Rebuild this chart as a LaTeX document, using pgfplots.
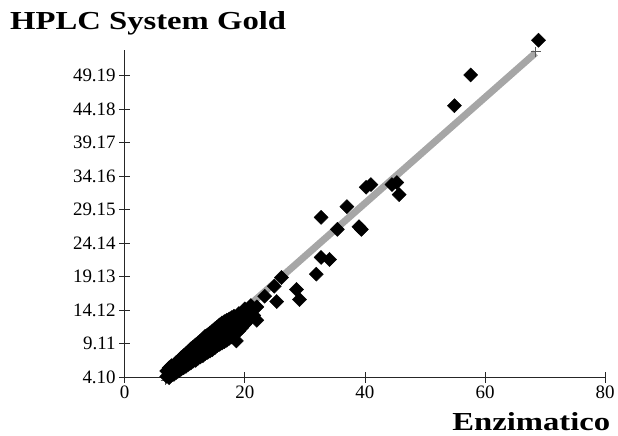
\documentclass[border=0pt]{standalone}
\usepackage{fontspec}
\setmainfont{Liberation Serif}
\usepackage{graphicx}
\usepackage{pgfplots}
\pgfplotsset{compat=1.18}
\begin{document}
\begin{tikzpicture}
\path (-125pt,-59pt) rectangle (493pt,378pt);
\begin{axis}[
  at={(0pt,0pt)}, anchor=south west,
  scale only axis, width=481.7pt, height=328.3pt,
  xmin=0, xmax=80, ymin=4.10, ymax=53.1,
  axis x line=bottom, axis y line=left,
  axis line style={-, line width=0.8pt, black!85},
  xtick={0,20,40,60,80},
  ytick={4.10,9.11,14.12,19.13,24.14,29.15,34.16,39.17,44.18,49.19},
  yticklabels={4.10,9.11,14.12,19.13,24.14,29.15,34.16,39.17,44.18,49.19},
  xticklabels={0,20,40,60,80},
  tick align=center, major tick length=11pt,
  tick style={line width=0.8pt, black!85},
  ticklabel style={font=\fontsize{19}{21}\selectfont},
  /pgf/number format/assume math mode=true,
  clip=false,
]
\addplot[gray!70, line width=7pt] coordinates {(6.8,3.8) (68.4,52.6)};
\addplot[only marks, mark=+, mark size=5pt, gray!70!black, mark options={line width=0.8pt}] coordinates {(6.8,3.6) (68.4,52.8)};
\addplot[only marks, mark=square*, mark size=5pt, black, mark options={rotate=45}] coordinates {
(7.0,4.2) (7.0,5.0) (7.4,4.6) (7.4,5.5) (7.4,4.0) (7.8,5.0) (7.8,5.8) (7.8,4.4)
(8.2,4.9) (8.2,5.9) (8.2,4.5) (8.6,5.4) (8.6,6.3) (8.6,4.8) (9.0,5.6) (9.0,6.6) (9.0,5.0)
(9.4,6.1) (9.4,7.0) (9.4,5.3) (9.8,6.3) (9.8,7.3) (9.8,5.5) (10.2,6.6) (10.2,7.6) (10.2,5.7)
(10.6,6.9) (10.6,7.9) (10.6,6.0) (11.0,7.2) (11.0,8.3) (11.0,6.2) (11.4,7.5) (11.4,8.6) (11.4,6.5)
(11.8,7.7) (11.8,8.9) (11.8,6.6) (12.2,8.0) (12.2,9.2) (12.2,6.9) (12.6,8.2) (12.6,9.5) (12.6,7.1)
(13.0,8.5) (13.0,9.8) (13.0,7.3) (13.4,8.9) (13.4,10.2) (13.4,7.6) (13.8,9.1) (13.8,10.4) (13.8,7.8)
(14.2,9.3) (14.2,10.7) (14.2,8.0) (14.6,9.6) (14.6,11.0) (14.6,8.2) (15.0,9.8) (15.0,11.3) (15.0,8.5)
(15.4,10.2) (15.4,11.6) (15.4,8.8) (15.8,10.4) (15.8,11.9) (15.8,9.0) (16.2,10.6) (16.2,12.2) (16.2,9.2)
(16.6,10.9) (16.6,12.4) (16.6,9.4) (17.0,11.1) (17.0,12.6) (17.0,9.6) (17.4,11.4) (17.4,12.8) (17.4,9.9)
(17.8,11.6) (17.8,13.0) (17.8,10.1) (18.2,11.9) (18.2,13.2) (18.2,10.4) (18.6,12.1) (18.6,9.5)
(19.0,12.4) (19.0,13.6) (19.0,11.0) (19.5,12.7) (19.5,11.5) (20.0,13.2) (20.0,14.3) (20.0,12.0)
(20.5,13.6) (20.5,12.5) (21.0,14.0) (21.0,14.8) (21.5,13.3) (22.0,12.6) (22.0,14.6)
(23.3,16.2) (24.9,17.7) (26.1,19.0) (25.3,15.4) (28.6,17.2) (29.1,15.7)
(31.9,19.5) (32.7,22.0) (34.1,21.7) (32.7,28.0) (35.4,26.2) (37.0,29.6)
(39.0,26.6) (39.4,26.2) (40.2,32.5) (41.0,32.9) (44.5,32.9) (45.3,33.2) (45.7,31.4)
(54.9,44.7) (57.6,49.3) (68.9,54.5)
};
\end{axis}
\node[anchor=base west, inner sep=0pt] at (-115pt,348pt) {\scalebox{1.26}[1]{\fontsize{26}{28}\selectfont\bfseries HPLC System Gold}};
\node[anchor=base east, inner sep=0pt] at (487pt,-54pt) {\scalebox{1.26}[1]{\fontsize{26}{28}\selectfont\bfseries Enzimatico}};
\end{tikzpicture}
\end{document}
